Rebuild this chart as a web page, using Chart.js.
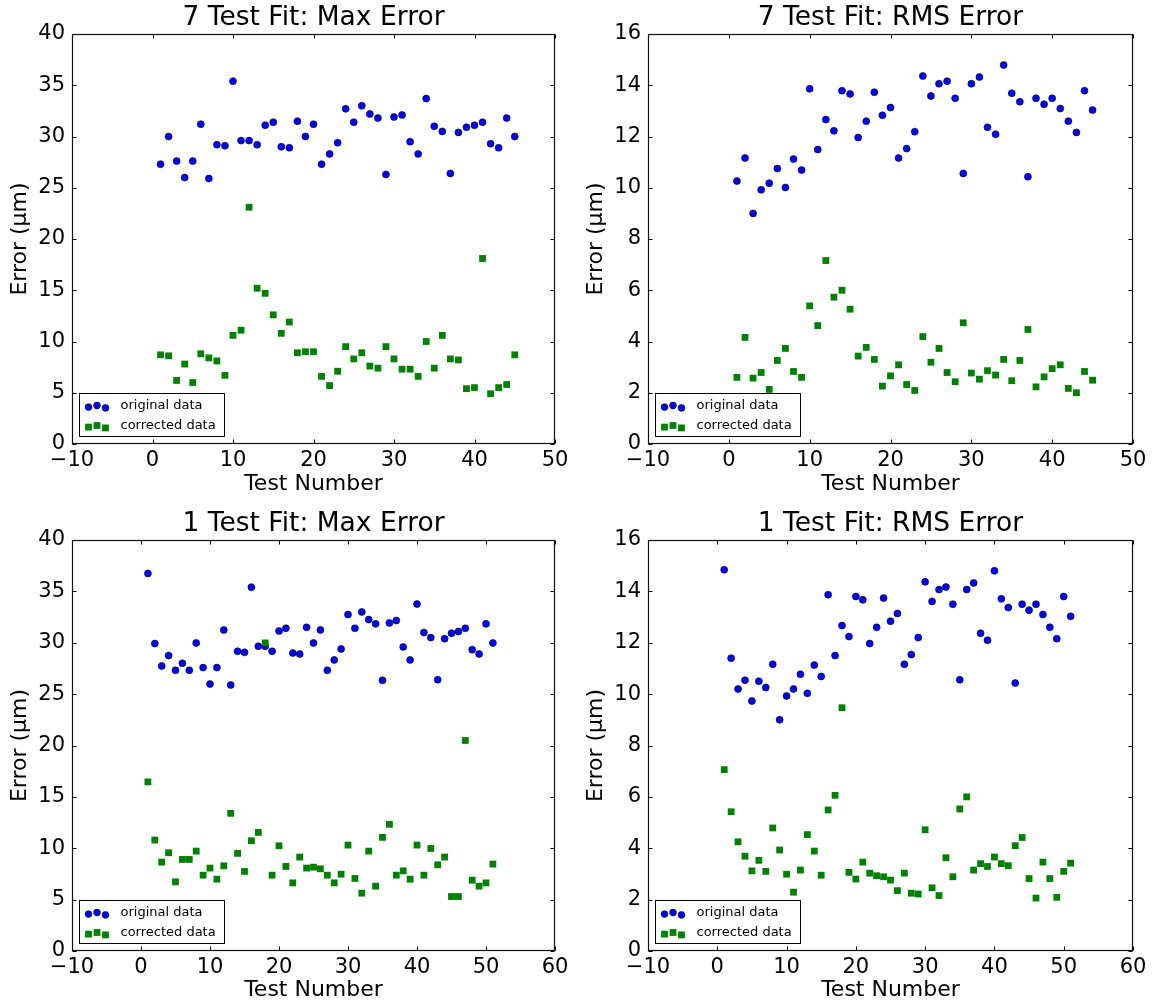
<!DOCTYPE html>
<html><head><meta charset="utf-8">
<script src="https://cdn.jsdelivr.net/npm/chart.js@4.4.1/dist/chart.umd.min.js"></script>
<style>
html,body{margin:0;padding:0;background:#fff;width:1153px;height:1007px;overflow:hidden}
canvas{position:absolute;display:block}
</style></head><body>
<canvas id="c1" width="576" height="506" style="left:0;top:0;width:576px;height:506px"></canvas>
<canvas id="c2" width="577" height="506" style="left:576px;top:0;width:577px;height:506px"></canvas>
<canvas id="c3" width="576" height="501" style="left:0;top:506px;width:576px;height:501px"></canvas>
<canvas id="c4" width="577" height="501" style="left:576px;top:506px;width:577px;height:501px"></canvas>
<script>
// ---------- data ----------
const tests7 = [1,2,3,4,5,6,7,8,9,10,11,12,13,14,15,16,17,18,19,20,21,22,23,24,25,26,27,28,29,30,31,32,33,34,35,36,37,38,39,40,41,42,43,44,45];
const tests1 = [1,2,3,4,5,6,7,8,9,10,11,12,13,14,15,16,17,18,19,20,21,22,23,24,25,26,27,28,29,30,31,32,33,34,35,36,37,38,39,40,41,42,43,44,45,46,47,48,49,50,51];

const max7Original  = [27.3,30.0,27.6,26.0,27.6,31.2,25.9,29.2,29.1,35.4,29.6,29.6,29.2,31.1,31.4,29.0,28.9,31.5,30.0,31.2,27.3,28.3,29.4,32.7,31.4,33.0,32.2,31.8,26.3,31.9,32.1,29.5,28.3,33.7,31.0,30.5,26.4,30.4,30.9,31.1,31.4,29.3,28.9,31.8,30.0];
const max7Corrected = [8.7,8.6,6.2,7.8,6.0,8.8,8.4,8.1,6.7,10.6,11.1,23.1,15.2,14.7,12.6,10.8,11.9,8.9,9.0,9.0,6.6,5.7,7.1,9.5,8.3,8.9,7.6,7.4,9.5,8.3,7.3,7.3,6.6,10.0,7.4,10.6,8.3,8.2,5.4,5.5,18.1,4.9,5.5,5.8,8.7];

const rms7Original  = [10.26,11.16,9.0,9.92,10.18,10.75,10.01,11.12,10.69,13.86,11.49,12.66,12.22,13.79,13.66,11.96,12.6,13.73,12.83,13.13,11.16,11.53,12.19,14.36,13.58,14.06,14.16,13.49,10.56,14.06,14.32,12.36,12.09,14.79,13.69,13.36,10.43,13.49,13.26,13.49,13.09,12.6,12.16,13.79,13.03];
const rms7Corrected = [2.6,4.16,2.57,2.79,2.13,3.26,3.73,2.83,2.6,5.39,4.62,7.16,5.73,6.0,5.26,3.43,3.77,3.3,2.26,2.66,3.09,2.32,2.09,4.19,3.19,3.73,2.79,2.43,4.73,2.77,2.53,2.86,2.69,3.3,2.47,3.26,4.47,2.23,2.62,2.94,3.09,2.17,2.0,2.83,2.49];

const max1Original  = [36.75,29.92,27.74,28.75,27.32,28.0,27.32,29.98,27.58,25.98,27.58,31.25,25.89,29.17,29.07,35.41,29.66,29.66,29.17,31.15,31.41,29.0,28.9,31.5,29.98,31.25,27.32,28.33,29.4,32.75,31.41,33.0,32.26,31.84,26.34,31.93,32.16,29.59,28.33,33.76,30.99,30.5,26.4,30.4,30.93,31.09,31.41,29.33,28.9,31.84,29.98];
const max1Corrected = [16.46,10.8,8.65,9.56,6.73,8.91,8.91,9.72,7.38,8.07,6.99,8.29,13.4,9.5,7.74,10.73,11.54,29.98,7.38,10.24,8.23,6.63,9.14,8.07,8.16,8.0,7.38,6.63,7.48,10.31,7.06,5.63,9.72,6.31,11.06,12.33,7.38,7.8,6.99,10.31,7.38,9.98,8.39,9.14,5.3,5.3,20.49,6.89,6.31,6.63,8.46];

const rms1Original  = [14.84,11.4,10.2,10.54,9.73,10.5,10.26,11.16,9.0,9.93,10.2,10.77,10.03,11.13,10.69,13.87,11.5,12.67,12.24,13.8,13.67,11.97,12.6,13.74,12.84,13.14,11.16,11.54,12.2,14.37,13.61,14.07,14.17,13.5,10.56,14.07,14.33,12.37,12.1,14.8,13.71,13.37,10.43,13.5,13.27,13.5,13.1,12.6,12.16,13.8,13.03];
const rms1Corrected = [7.06,5.42,4.25,3.69,3.12,3.53,3.1,4.79,3.93,2.99,2.29,3.15,4.53,3.89,2.95,5.49,6.06,9.47,3.06,2.8,3.46,3.03,2.93,2.89,2.76,2.35,3.03,2.25,2.22,4.72,2.46,2.16,3.63,2.89,5.53,6.0,3.15,3.4,3.29,3.66,3.4,3.32,4.1,4.42,2.82,2.06,3.46,2.82,2.09,3.1,3.42];

const titles = ['7 Test Fit: Max Error','7 Test Fit: RMS Error','1 Test Fit: Max Error','1 Test Fit: RMS Error'];
const legendLabels = ['original data','corrected data'];
const xLabel = 'Test Number';
const yLabel = 'Error (\u03bcm)';

// ---------- rendering ----------
Chart.defaults.font.family = "'DejaVu Sans', sans-serif";
Chart.defaults.color = '#000';
Chart.defaults.animation = false;

const BLUE = '#0000ff', GREEN = '#008000';

const framePlugin = {
  id: 'framePlugin',
  afterDatasetsDraw(chart) {
    const {ctx, chartArea: a, scales: {x, y}} = chart;
    const L = Math.round(a.left) + 0.5, R = Math.round(a.right) - 0.5;
    const T = Math.round(a.top) + 0.5, B = Math.round(a.bottom) - 0.5;
    ctx.save();
    ctx.strokeStyle = '#000';
    ctx.lineWidth = 1;
    ctx.beginPath();
    x.ticks.forEach(t => {
      const p = Math.round(x.getPixelForValue(t.value)) + 0.5;
      ctx.moveTo(p, T); ctx.lineTo(p, T + 4);
      ctx.moveTo(p, B); ctx.lineTo(p, B - 4);
    });
    y.ticks.forEach(t => {
      const p = Math.round(y.getPixelForValue(t.value)) + 0.5;
      ctx.moveTo(L, p); ctx.lineTo(L + 4, p);
      ctx.moveTo(R, p); ctx.lineTo(R - 4, p);
    });
    ctx.stroke();
    ctx.lineWidth = 1.2;
    ctx.strokeStyle = '#111';
    ctx.strokeRect(L, T, R - L, B - T);

    // legend (lower left, inside axes)
    const bx = Math.round(a.left) + 7.5, bw = 145, bh = 43;
    const by = Math.round(a.bottom) - 7.5 - bh;
    ctx.fillStyle = '#fff';
    ctx.fillRect(bx, by, bw, bh);
    ctx.lineWidth = 1;
    ctx.strokeStyle = '#000';
    ctx.strokeRect(bx, by, bw, bh);
    const rows = [by + 12, by + 32];
    const mx = [bx + 9, bx + 17.5, bx + 26];
    const yoff = [1.6, 0, 2.4];
    mx.forEach((px, i) => {
      ctx.beginPath();
      ctx.arc(px, rows[0] + yoff[i], 3.4, 0, Math.PI * 2);
      ctx.fillStyle = BLUE; ctx.fill();
      ctx.lineWidth = 0.6; ctx.strokeStyle = '#000'; ctx.stroke();
    });
    mx.forEach((px, i) => {
      ctx.fillStyle = GREEN;
      ctx.fillRect(px - 3.4, rows[1] + yoff[i] - 3.4, 6.8, 6.8);
    });
    ctx.fillStyle = '#000';
    ctx.font = "13px 'DejaVu Sans', sans-serif";
    ctx.textBaseline = 'middle';
    ctx.textAlign = 'left';
    ctx.fillText(legendLabels[0], bx + 41, rows[0]);
    ctx.fillText(legendLabels[1], bx + 41, rows[1]);
    ctx.restore();
  }
};

function makeChart(id, title, xs, orig, corr, xMax, yMax, yStep, rightPad, xAxisH, xTitlePadB) {
  const pts = (vals) => vals.map((v, i) => ({x: xs[i], y: v}));
  new Chart(document.getElementById(id), {
    type: 'scatter',
    data: {
      datasets: [
        {label: legendLabels[0], data: pts(orig), order: 1,
         pointStyle: 'circle', pointRadius: 3.5, pointHoverRadius: 3.5,
         backgroundColor: BLUE, borderColor: '#000', borderWidth: 0.6},
        {label: legendLabels[1], data: pts(corr), order: 0,
         pointStyle: 'rect', pointRadius: 4.8, pointHoverRadius: 4.8,
         backgroundColor: GREEN, borderColor: GREEN, borderWidth: 0}
      ]
    },
    options: {
      responsive: false,
      animation: false,
      events: [],
      layout: {padding: {left: 0, right: rightPad, top: 0, bottom: 0}},
      plugins: {
        legend: {display: false},
        tooltip: {enabled: false},
        title: {display: true, text: title, fullSize: false, color: '#000',
                font: {size: 26.5, weight: 'normal', lineHeight: 1.2}, padding: {top: 2, bottom: 0.2}}
      },
      scales: {
        x: {
          type: 'linear', min: -10, max: xMax,
          ticks: {stepSize: 10, padding: 3.5, font: {size: 21}, color: '#000',
                  callback: v => (v < 0 ? '\u2212' + Math.abs(v) : String(v))},
          grid: {display: false, drawTicks: false},
          border: {display: false},
          title: {display: true, text: xLabel, font: {size: 22}, color: '#000', padding: {top: 0, bottom: xTitlePadB}},
          afterFit: s => { s.height = xAxisH; }
        },
        y: {
          type: 'linear', min: 0, max: yMax,
          ticks: {stepSize: yStep, padding: 7, font: {size: 21}, color: '#000'},
          grid: {display: false, drawTicks: false},
          border: {display: false},
          title: {display: true, text: yLabel, font: {size: 22}, color: '#000', padding: {top: 7, bottom: 0}},
          afterFit: s => { s.width = 72; }
        }
      }
    },
    plugins: [framePlugin]
  });
}

makeChart('c1', titles[0], tests7, max7Original, max7Corrected, 50, 40, 5, 21, 62, 8.8);
makeChart('c2', titles[1], tests7, rms7Original, rms7Corrected, 50, 16, 2, 20, 62, 8.8);
makeChart('c3', titles[2], tests1, max1Original, max1Corrected, 60, 40, 5, 21, 56, 3.8);
makeChart('c4', titles[3], tests1, rms1Original, rms1Corrected, 60, 16, 2, 20, 56, 3.8);
</script>
</body></html>
